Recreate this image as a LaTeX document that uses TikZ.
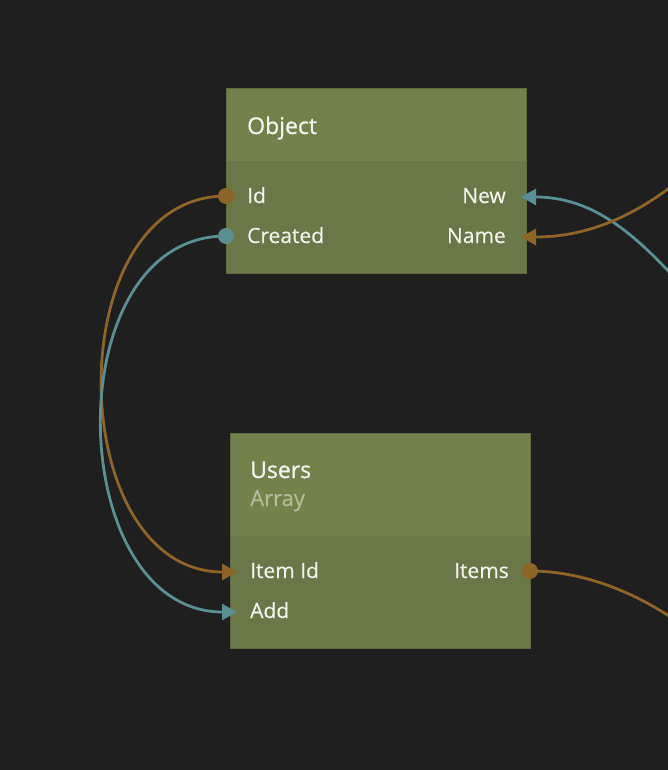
\documentclass[tikz,border=0pt]{standalone}
\usepackage{fontspec}
\setmainfont{Open Sans}
\newfontfamily\titlefont[FakeBold=0.8]{Open Sans}
\newfontfamily\portfont[FakeBold=0.35]{Open Sans}
\usetikzlibrary{arrows.meta}
\definecolor{bg}{HTML}{1F1F1F}
\definecolor{hdr}{HTML}{73824A}
\definecolor{body}{HTML}{6A7747}
\definecolor{edge}{HTML}{5E6B3F}
\definecolor{wireO}{HTML}{8E6527}
\definecolor{wireB}{HTML}{5A8F93}
\definecolor{txt}{HTML}{F4F4EC}
\definecolor{sub}{HTML}{B4BC9E}
\tikzset{
  header/.style={fill=hdr,draw=none},
  bodypart/.style={fill=body,draw=none},
  frame/.style={draw=edge,line width=1pt},
  title/.style={anchor=base west,inner sep=0pt,text=txt,font=\titlefont\fontsize{23}{27}\selectfont},
  subtitle/.style={anchor=base west,inner sep=0pt,text=sub,font=\portfont\fontsize{22}{26}\selectfont},
  portl/.style={anchor=base west,inner sep=0pt,text=txt,font=\portfont\fontsize{21}{25}\selectfont},
  portr/.style={anchor=base east,inner sep=0pt,text=txt,font=\portfont\fontsize{21}{25}\selectfont},
  wire/.style={line width=2.8pt},
  tip/.style={-{Triangle[length=15pt,width=16pt]}},
  dot/.style={circle,inner sep=0pt,minimum size=16pt},
}
\begin{document}
\begin{tikzpicture}[x=1pt,y=-1pt]
\useasboundingbox (0,0) rectangle (668,770);
\fill[bg] (0,0) rectangle (668,770);

% Object box
\fill[header] (226,89) rectangle (526,161);
\fill[bodypart] (226,161) rectangle (526,273);
\draw[frame] (226,89) rectangle (526,273);
\node[title] (objT) at (247,134) {Object};
\node[portl] (objId) at (247,203) {Id};
\node[portl] (objCr) at (247,243) {Created};
\node[portr] (objNew) at (506,203) {New};
\node[portr] (objName) at (506,243) {Name};

% Users box
\fill[header] (230,433) rectangle (530,536);
\fill[bodypart] (230,536) rectangle (530,648);
\draw[frame] (230,433) rectangle (530,648);
\node[title] (usT) at (250,478) {Users};
\node[subtitle] (usS) at (250,506) {Array};
\node[portl] (usItem) at (250,578) {Item Id};
\node[portl] (usAdd) at (250,618) {Add};
\node[portr] (usItems) at (509,578) {Items};

% ports
\coordinate (pId) at (226,196);
\coordinate (pCr) at (226,236);
\coordinate (pNew) at (521,197);
\coordinate (pName) at (521,237);
\coordinate (pItemId) at (237,572);
\coordinate (pAdd) at (237,612);
\coordinate (pItems) at (530,571);
% off-picture ends
\coordinate (eName) at (672,186);
\coordinate (eNew) at (672,275);
\coordinate (eItems) at (672,618);

% wires
\draw[wire,wireO,tip] (pId) .. controls (57,196) and (63,572) .. (pItemId);
\draw[wire,wireB,tip] (pCr) .. controls (55,236) and (63,612) .. (pAdd);
\draw[wire,wireB,tip] (eNew) .. controls (630,230) and (590,197) .. (pNew);
\draw[wire,wireO,tip] (eName) .. controls (630,218) and (585,237) .. (pName);
\draw[wire,wireO] (pItems) .. controls (580,571) and (630,590) .. (eItems);

% dots
\node[dot,fill=wireO] (dId) at (pId) {};
\node[dot,fill=wireB] (dCr) at (pCr) {};
\node[dot,fill=wireO] (dItems) at (pItems) {};
\end{tikzpicture}
\end{document}
